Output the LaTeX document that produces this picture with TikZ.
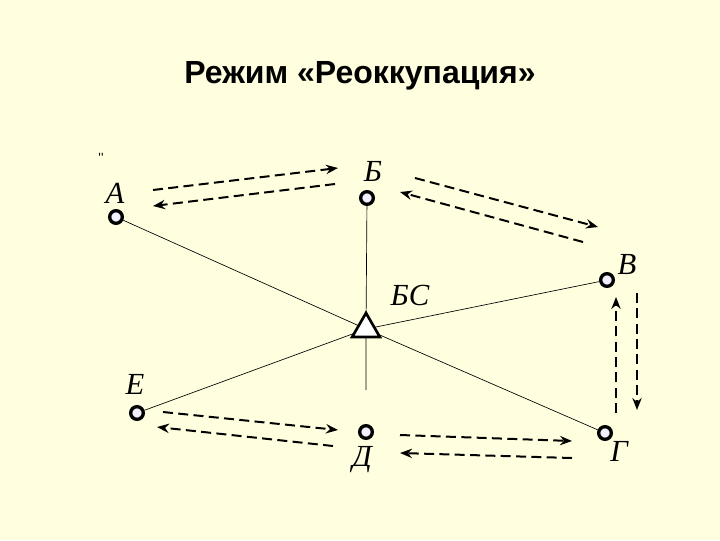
\documentclass[tikz,border=0pt]{standalone}
\usepackage{fontspec}
\setmainfont{Liberation Serif}
\newfontfamily\titlefont{Liberation Sans}
\usetikzlibrary{shapes.geometric, arrows.meta}
\definecolor{bgyellow}{RGB}{255,255,224}
\definecolor{stfill}{RGB}{240,240,255}
\tikzstyle{station} = [circle, draw=black, line width=2.5pt, fill=stfill, minimum size=9.5pt, inner sep=0pt]
\tikzstyle{base} = [regular polygon, regular polygon sides=3, draw=black, line width=2pt, fill=white, minimum size=24pt, inner sep=0pt]
\tikzstyle{lbl} = [font=\fontsize{23}{27}\selectfont\itshape, inner sep=0pt]
\tikzstyle{link} = [line width=0.5pt]
\tikzstyle{arrow} = [line width=1.5pt, dash pattern=on 7.5pt off 4pt, -{Stealth[length=9pt,width=7pt]}]

\begin{document}
\begin{tikzpicture}[x=0.75pt, y=-0.75pt]

\fill [bgyellow] (0,0) rectangle (720,540);
\useasboundingbox (0,0) rectangle (720,540);

\node (title) at (360,76) {\titlefont\bfseries\fontsize{24}{28}\selectfont Режим «Реоккупация»};
\node (tick) at (101,158) {\titlefont\fontsize{10}{12}\selectfont ''};

\node (a) [station] at (116,217) {};
\node (b) [station] at (367,198) {};
\node (v) [station] at (607,280) {};
\node (g) [station] at (605,433) {};
\node (d) [station] at (366,432) {};
\node (e) [station] at (137,413) {};

\node (la) [lbl] at (115,193) {А};
\node (lb) [lbl] at (373,171) {Б};
\node (lv) [lbl] at (627,264) {В};
\node (lg) [lbl] at (619,451) {Г};
\node (ld) [lbl] at (362,460) {Д};
\node (le) [lbl] at (135,384) {Е};

\coordinate (bsc) at (366,329);
\coordinate (vend) at (366,390);

\draw [link] (a) -- (bsc);
\draw [link] (e) -- (bsc);
\draw [link] (v) -- (bsc);
\draw [link] (g) -- (bsc);
\draw [link] (b) -- (bsc) -- (vend);

\node (bs) [base] at (bsc) {};
\node (lbs) [lbl] at (410,295) {БС};

\coordinate (ab1) at (153,190);
\coordinate (ab2) at (338,168);
\coordinate (ba1) at (335,184);
\coordinate (ba2) at (153,206);
\coordinate (bv1) at (415,178);
\coordinate (bv2) at (598,227);
\coordinate (vb1) at (583,242);
\coordinate (vb2) at (400,192);
\coordinate (vg1) at (637,293);
\coordinate (vg2) at (637,410);
\coordinate (gv1) at (616,413);
\coordinate (gv2) at (616,297);
\coordinate (ed1) at (163,412);
\coordinate (ed2) at (338,430);
\coordinate (de1) at (333,446);
\coordinate (de2) at (157,427);
\coordinate (dg1) at (400,435);
\coordinate (dg2) at (572,441);
\coordinate (gd1) at (572,458);
\coordinate (gd2) at (400,453);

\draw [arrow] (ab1) -- (ab2);
\draw [arrow] (ba1) -- (ba2);
\draw [arrow] (bv1) -- (bv2);
\draw [arrow] (vb1) -- (vb2);
\draw [arrow] (vg1) -- (vg2);
\draw [arrow] (gv1) -- (gv2);
\draw [arrow] (ed1) -- (ed2);
\draw [arrow] (de1) -- (de2);
\draw [arrow] (dg1) -- (dg2);
\draw [arrow] (gd1) -- (gd2);

\end{tikzpicture}
\end{document}
